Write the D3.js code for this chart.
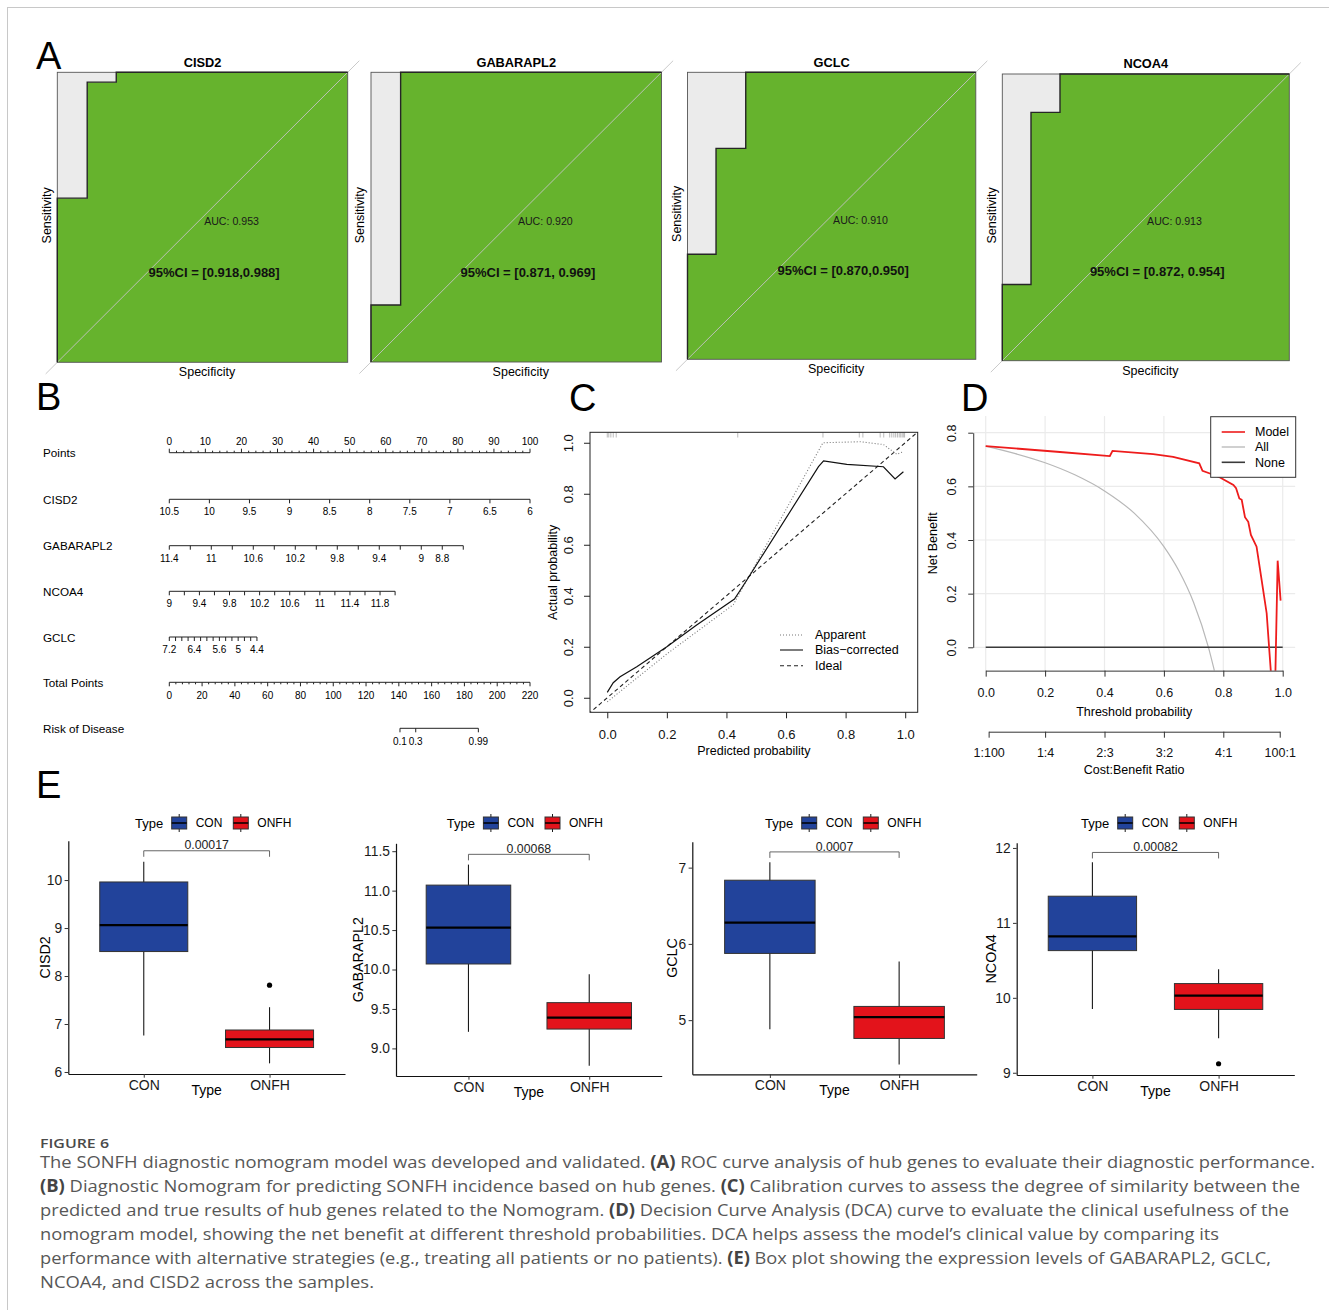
<!DOCTYPE html>
<html>
<head>
<meta charset="utf-8">
<title>Figure 6</title>
<script src="https://cdn.jsdelivr.net/npm/d3@7/dist/d3.min.js"></script>
<style>
  body { margin: 0; background: #fff; }
  svg { display: block; font-family: "Liberation Sans", Arial, Helvetica, sans-serif; }
</style>
</head>
<body>
<svg id="fig" width="1329" height="1313"></svg>
<script>
// ---------- data ----------
// A: ROC step curves (specificity, sensitivity)
const rocGenes = ["CISD2", "GABARAPL2", "GCLC", "NCOA4"];
const rocAuc = ["0.953", "0.920", "0.910", "0.913"];
const rocCi = ["[0.918,0.988]", "[0.871, 0.969]", "[0.870,0.950]", "[0.872, 0.954]"];
const rocSpec = [
  [1, 1, 0.897, 0.897, 0.797, 0.797, 0],
  [1, 1, 0.898, 0.898, 0],
  [1, 1, 0.901, 0.901, 0.798, 0.798, 0],
  [1, 1, 0.900, 0.900, 0.799, 0.799, 0]
];
const rocSens = [
  [0, 0.566, 0.566, 0.966, 0.966, 1, 1],
  [0, 0.197, 0.197, 1, 1],
  [0, 0.366, 0.366, 0.735, 0.735, 1, 1],
  [0, 0.266, 0.266, 0.866, 0.866, 1, 1]
];

// B: nomogram
const nomoVars = ["CISD2", "GABARAPL2", "NCOA4", "GCLC"];
const nomoStart = [10.5, 11.4, 9, 7.2];
const nomoEnd = [6, 8.6, 12, 4.4];
const nomoEndPts = [100, 81.5, 62.6, 24.3];
const nomoTicks = [
  [10.5, 10, 9.5, 9, 8.5, 8, 7.5, 7, 6.5, 6],
  [11.4, 11.2, 11, 10.8, 10.6, 10.4, 10.2, 10, 9.8, 9.6, 9.4, 9.2, 9, 8.8, 8.6],
  [9, 9.2, 9.4, 9.6, 9.8, 10, 10.2, 10.4, 10.6, 10.8, 11, 11.2, 11.4, 11.6, 11.8, 12],
  [7.2, 7, 6.8, 6.6, 6.4, 6.2, 6, 5.8, 5.6, 5.4, 5.2, 5, 4.8, 4.6, 4.4]
];
const nomoLabels = [
  [10.5, 10, 9.5, 9, 8.5, 8, 7.5, 7, 6.5, 6],
  [11.4, 11, 10.6, 10.2, 9.8, 9.4, 9, 8.8],
  [9, 9.4, 9.8, 10.2, 10.6, 11, 11.4, 11.8],
  [7.2, 6.4, 5.6, 5, 4.4]
];
const totalPtsMax = 220;
const riskLabels = ["0.1", "0.3", "0.99"];
const riskPts = [140.7, 150.3, 188.5];

// C: calibration
const calRug = [0.0, 0.005, 0.012, 0.02, 0.03, 0.438, 0.724, 0.846, 0.858, 0.916, 0.928,
  0.948, 0.955, 0.962, 0.968, 0.974, 0.98, 0.985, 0.99, 0.995, 0.998];
const appPred = [0, 0.2, 0.423, 0.724, 0.849, 0.927, 0.972, 0.994];
const appObs = [-0.016, 0.172, 0.365, 1.0, 1.004, 0.993, 0.955, 0.965];
const bcPred = [0, 0.02, 0.043, 0.099, 0.2, 0.3, 0.427, 0.468, 0.709, 0.726, 0.804, 0.927, 0.966, 0.994];
const bcObs = [0.021, 0.059, 0.082, 0.122, 0.2, 0.285, 0.387, 0.461, 0.906, 0.929, 0.915, 0.906, 0.858, 0.886];

// D: decision curve
const modelThr = [0, 0.25, 0.418, 0.427, 0.564, 0.631, 0.719, 0.73, 0.755, 0.789, 0.834, 0.843,
  0.854, 0.862, 0.873, 0.884, 0.893, 0.912, 0.929, 0.946, 0.962, 0.975, 0.983, 0.993];
const modelNb = [0.750, 0.728, 0.713, 0.732, 0.720, 0.710, 0.686, 0.658, 0.648, 0.633, 0.605, 0.593,
  0.555, 0.550, 0.485, 0.468, 0.419, 0.375, 0.251, 0.127, -0.12, -0.12, 0.323, 0.174];
const allThr = [0, 0.1, 0.2, 0.3, 0.4, 0.5, 0.6, 0.65, 0.7, 0.75, 0.77];
const allNb = [0.75, 0.722, 0.688, 0.643, 0.583, 0.5, 0.375, 0.286, 0.167, 0, -0.087];
const costRatios = ["1:100", "1:4", "2:3", "3:2", "4:1", "100:1"];
const costThr = [0.0099, 0.2, 0.4, 0.6, 0.8, 0.99];

// E: box plots, [lower whisker, Q1, median, Q3, upper whisker]
const boxGenes = ["CISD2", "GABARAPL2", "GCLC", "NCOA4"];
const groups = ["CON", "ONFH"];
const groupColors = ["#22439b", "#e3131b"];
const conStats = [[6.76, 8.51, 9.06, 9.96, 10.38], [9.21, 10.07, 10.53, 11.07, 11.33],
  [4.88, 5.875, 6.28, 6.835, 7.07], [9.85, 10.63, 10.82, 11.356, 11.81]];
const onfhStats = [[6.18, 6.51, 6.68, 6.875, 7.35], [8.78, 9.245, 9.39, 9.58, 9.94],
  [4.42, 4.76, 5.04, 5.18, 5.77], [9.46, 9.845, 10.03, 10.19, 10.38]];
const onfhOutliers = [[7.81], [], [], [9.12]];
const pValues = ["0.00017", "0.00068", "0.0007", "0.00082"];
const bracketAt = [10.61, 11.46, 7.206, 11.94];
const boxDomains = [[5.958, 10.82], [8.65, 11.6], [4.29, 7.34], [8.97, 12.07]];
const boxTicks = [[6, 7, 8, 9, 10], [9, 9.5, 10, 10.5, 11, 11.5], [5, 6, 7], [9, 10, 11, 12]];

// caption
const captionLines = [
  [["The SONFH diagnostic nomogram model was developed and validated. ", 0], ["(A)", 1], [" ROC curve analysis of hub genes to evaluate their diagnostic performance.", 0]],
  [["(B)", 1], [" Diagnostic Nomogram for predicting SONFH incidence based on hub genes. ", 0], ["(C)", 1], [" Calibration curves to assess the degree of similarity between the", 0]],
  [["predicted and true results of hub genes related to the Nomogram. ", 0], ["(D)", 1], [" Decision Curve Analysis (DCA) curve to evaluate the clinical usefulness of the", 0]],
  [["nomogram model, showing the net benefit at different threshold probabilities. DCA helps assess the model\u2019s clinical value by comparing its", 0]],
  [["performance with alternative strategies (e.g., treating all patients or no patients). ", 0], ["(E)", 1], [" Box plot showing the expression levels of GABARAPL2, GCLC,", 0]],
  [["NCOA4, and CISD2 across the samples.", 0]]
];
const captionWidths = [1275, 1260, 1249, 1179, 1231, 334];

// ---------- drawing ----------
const svg = d3.select("#fig");
const FONT = "'Liberation Sans', Arial, Helvetica, sans-serif";

function txt(g, x, y, s, o = {}) {
  const t = g.append("text").attr("x", x).attr("y", y).text(s)
    .attr("font-size", o.size || 12)
    .attr("text-anchor", o.anchor || "middle")
    .attr("fill", o.fill || "#000")
    .attr("dy", o.dy !== undefined ? o.dy : "0.35em");
  if (o.bold) t.attr("font-weight", "bold");
  if (o.rot) t.attr("transform", `rotate(${o.rot},${x},${y})`);
  return t;
}

// frame
svg.append("line").attr("x1", 7).attr("x2", 1329).attr("y1", 7.5).attr("y2", 7.5).attr("stroke", "#c8c8c8");
svg.append("line").attr("x1", 7.5).attr("x2", 7.5).attr("y1", 7.5).attr("y2", 1310).attr("stroke", "#c8c8c8");

// panel letters
[["A", 36, 69], ["B", 36, 410], ["C", 569, 411], ["D", 961, 411], ["E", 36, 798]].forEach(([l, x, y]) =>
  txt(svg, x, y, l, { size: 38, anchor: "start", dy: 0 }));

// ===== A: ROC =====
const rocBoxes = [[57.3, 72.3, 347.7, 362.3], [371, 72.3, 661.5, 362], [687.5, 72.3, 975.8, 359.3], [1002.3, 74, 1289.3, 360.7]];
const gA = svg.append("g");
rocGenes.forEach((gene, i) => {
  const [bx0, by0, bx1, by1] = rocBoxes[i];
  const x = d3.scaleLinear().domain([1, 0]).range([bx0, bx1]);
  const y = d3.scaleLinear().domain([0, 1]).range([by1, by0]);
  const pts = rocSpec[i].map((s, j) => [s, rocSens[i][j]]);
  const line = d3.line().x(d => x(d[0])).y(d => y(d[1]));
  gA.append("path").attr("d", line([...pts, [0, 0]]) + "Z").attr("fill", "#66b32d");
  gA.append("path").attr("d", line([...pts, [1, 1]]) + "Z").attr("fill", "#ebebeb");
  gA.append("line")
    .attr("x1", x(1.04)).attr("y1", y(-0.04)).attr("x2", x(-0.04)).attr("y2", y(1.04))
    .attr("stroke", "#c4c4c4").attr("stroke-width", 0.9);
  gA.append("rect").attr("x", bx0).attr("y", by0).attr("width", bx1 - bx0).attr("height", by1 - by0)
    .attr("fill", "none").attr("stroke", "#555").attr("stroke-width", 0.9);
  gA.append("path").attr("d", line(pts)).attr("fill", "none").attr("stroke", "#262626").attr("stroke-width", 1.4);

  const cx = (bx0 + bx1) / 2;
  txt(gA, cx, by0 - 5.7, gene, { size: 12.8, bold: true, dy: 0 });
  txt(gA, bx0 - 11, (by0 + by1) / 2 - 2, "Sensitivity", { size: 12.5, rot: -90 });
  txt(gA, cx + 4.5, by1 + 9.5, "Specificity", { size: 12.5 });
  txt(gA, x(0.4), y(0.485), "AUC: " + rocAuc[i], { size: 10.6, fill: "#1a1a1a" });
  txt(gA, x(0.46), y(0.31), "95%CI = " + rocCi[i], { size: 13, bold: true, fill: "#111" });
});

// ===== B: nomogram =====
const gB = svg.append("g").attr("stroke-width", 1);
const nomX = d3.scaleLinear().domain([0, 100]).range([169.3, 530]);
const totX = d3.scaleLinear().domain([0, totalPtsMax]).range([169.3, 530]);
const rowY = [452.7, 499.3, 545.7, 591.3, 637, 682.3, 728.3];
const rowNames = ["Points", ...nomoVars, "Total Points", "Risk of Disease"];
rowNames.forEach((n, i) => txt(gB, 43, rowY[i] + 0.5, n, { size: 11.7, anchor: "start" }));

function hline(g, x1, x2, y) {
  g.append("line").attr("x1", x1).attr("x2", x2).attr("y1", y).attr("y2", y).attr("stroke", "#222");
}
function vtick(g, x, y, len) {
  g.append("line").attr("x1", x).attr("x2", x).attr("y1", y).attr("y2", y + len).attr("stroke", "#222");
}
// Points
hline(gB, nomX(0), nomX(100), rowY[0]);
d3.range(0, 101, 2).forEach(p => vtick(gB, nomX(p), rowY[0], p % 10 === 0 ? -4 : -2));
d3.range(0, 101, 10).forEach(p => txt(gB, nomX(p), rowY[0] - 11, p, { size: 10 }));
// predictors
nomoVars.forEach((v, i) => {
  const pts = d3.scaleLinear().domain([nomoStart[i], nomoEnd[i]]).range([0, nomoEndPts[i]]);
  const y = rowY[i + 1];
  hline(gB, nomX(pts(nomoStart[i])), nomX(pts(nomoEnd[i])), y);
  nomoTicks[i].forEach(t => vtick(gB, nomX(pts(t)), y, 4));
  nomoLabels[i].forEach(t => txt(gB, nomX(pts(t)), y + 12.3, t, { size: 10 }));
});
// Total points
hline(gB, totX(0), totX(totalPtsMax), rowY[5]);
d3.range(0, totalPtsMax + 1, 4).forEach(p => vtick(gB, totX(p), rowY[5], p % 20 === 0 ? 4 : 2));
d3.range(0, totalPtsMax + 1, 20).forEach(p => txt(gB, totX(p), rowY[5] + 12.7, p, { size: 10 }));
// Risk
hline(gB, totX(riskPts[0]), totX(riskPts[2]), rowY[6]);
riskPts.forEach((p, i) => {
  vtick(gB, totX(p), rowY[6], 4);
  txt(gB, totX(p), rowY[6] + 12.7, riskLabels[i], { size: 10 });
});

// ===== C: calibration =====
const gC = svg.append("g");
const xC = d3.scaleLinear().domain([-0.058, 1.042]).range([590, 917.7]);
const yC = d3.scaleLinear().domain([-0.057, 1.041]).range([712.3, 432.3]);
svg.append("clipPath").attr("id", "clipC").append("rect")
  .attr("x", 590).attr("y", 432.3).attr("width", 327.7).attr("height", 280);
const calTicks = [0, 0.2, 0.4, 0.6, 0.8, 1];
const gCp = gC.append("g").attr("clip-path", "url(#clipC)");
gCp.append("line").attr("x1", xC(-0.1)).attr("y1", yC(-0.1)).attr("x2", xC(1.1)).attr("y2", yC(1.1))
  .attr("stroke", "#222").attr("stroke-width", 1.1).attr("stroke-dasharray", "4,3");
gCp.append("path").attr("d", d3.line().x((d, j) => xC(appPred[j])).y(d => yC(d))(appObs))
  .attr("fill", "none").attr("stroke", "#777").attr("stroke-width", 1.1).attr("stroke-dasharray", "1,2");
gCp.append("path").attr("d", d3.line().x((d, j) => xC(bcPred[j])).y(d => yC(d))(bcObs))
  .attr("fill", "none").attr("stroke", "#111").attr("stroke-width", 1.2);
calRug.forEach(r => gCp.append("line").attr("x1", xC(r)).attr("x2", xC(r))
  .attr("y1", 432.3).attr("y2", 437.5).attr("stroke", "#aaa").attr("stroke-width", 0.8));
gC.append("rect").attr("x", 590).attr("y", 432.3).attr("width", 327.7).attr("height", 280)
  .attr("fill", "none").attr("stroke", "#222").attr("stroke-width", 1);
gC.append("g").attr("transform", "translate(0,712.3)")
  .call(d3.axisBottom(xC).tickValues(calTicks).tickSize(6).tickPadding(11).tickFormat(d3.format(".1f")))
  .call(g => g.select(".domain").remove())
  .attr("font-size", 13).attr("font-family", FONT);
gC.append("g").attr("transform", "translate(590,0)")
  .call(d3.axisLeft(yC).tickValues(calTicks).tickSize(6).tickFormat(d3.format(".1f")))
  .call(g => g.select(".domain").remove())
  .attr("font-size", 13).attr("font-family", FONT)
  .call(g => g.selectAll("text").attr("x", null).attr("dy", "0.35em").attr("text-anchor", "middle")
    .attr("transform", "translate(-22,0) rotate(-90)"));
gC.selectAll(".tick line").attr("stroke", "#222");
gC.selectAll(".tick text").attr("fill", "#111");
txt(gC, 753.9, 750.7, "Predicted probability", { size: 12.5 });
txt(gC, 553, 572.3, "Actual probability", { size: 12.5, rot: -90 });
const calLegend = [["Apparent", "#777", "1,2", 635], ["Bias\u2212corrected", "#111", null, 650], ["Ideal", "#222", "4,3", 665.7]];
calLegend.forEach(([lab, col, dash, y]) => {
  const l = gC.append("line").attr("x1", 780).attr("x2", 803).attr("y1", y).attr("y2", y)
    .attr("stroke", col).attr("stroke-width", 1.1);
  if (dash) l.attr("stroke-dasharray", dash);
  txt(gC, 815, y, lab, { size: 12.5, anchor: "start" });
});

// ===== D: decision curve =====
const gD = svg.append("g");
const xD = d3.scaleLinear().domain([0, 1]).range([985.7, 1282.7]);
const yD = d3.scaleLinear().domain([0, 0.8]).range([647.3, 432.7]);
const regX0 = xD(-0.042), regX1 = xD(1.042), regY0 = yD(0.862), regY1 = yD(-0.087);
const dTicksX = [0, 0.2, 0.4, 0.6, 0.8, 1];
const dTicksY = [0, 0.2, 0.4, 0.6, 0.8];
dTicksX.forEach(t => gD.append("line").attr("x1", xD(t)).attr("x2", xD(t)).attr("y1", regY0).attr("y2", regY1)
  .attr("stroke", "#ebebeb").attr("stroke-width", 1.2));
dTicksY.forEach(t => gD.append("line").attr("x1", regX0).attr("x2", regX1).attr("y1", yD(t)).attr("y2", yD(t))
  .attr("stroke", "#ebebeb").attr("stroke-width", 1.2));
svg.append("clipPath").attr("id", "clipD").append("rect")
  .attr("x", regX0).attr("y", regY0).attr("width", regX1 - regX0).attr("height", regY1 - regY0);
const gDp = gD.append("g").attr("clip-path", "url(#clipD)");
gDp.append("path").attr("d", d3.line().x((d, j) => xD(allThr[j])).y(d => yD(d)).curve(d3.curveMonotoneX)(allNb))
  .attr("fill", "none").attr("stroke", "#b8b8b8").attr("stroke-width", 1.2);
gDp.append("line").attr("x1", xD(0)).attr("x2", xD(1)).attr("y1", yD(0)).attr("y2", yD(0))
  .attr("stroke", "#3a3a3a").attr("stroke-width", 1.4);
gDp.append("path").attr("d", d3.line().x((d, j) => xD(modelThr[j])).y(d => yD(d))(modelNb))
  .attr("fill", "none").attr("stroke", "#ee1c1c").attr("stroke-width", 1.8);
gD.append("g").attr("transform", `translate(0,${regY1})`)
  .call(d3.axisBottom(xD).tickValues(dTicksX).tickSize(6).tickSizeOuter(0).tickPadding(11).tickFormat(d3.format(".1f")))
  .attr("font-size", 12.5).attr("font-family", FONT);
gD.append("g").attr("transform", `translate(${regX0},0)`)
  .call(d3.axisLeft(yD).tickValues(dTicksY).tickSize(5).tickSizeOuter(0).tickFormat(d3.format(".1f")))
  .attr("font-size", 12.5).attr("font-family", FONT)
  .call(g => g.selectAll("text").attr("x", null).attr("dy", "0.35em").attr("text-anchor", "middle")
    .attr("transform", "translate(-21.6,0) rotate(-90)"));
const xCost = d3.scaleOrdinal().domain(costRatios).range(costThr.map(xD));
gD.append("g").attr("transform", "translate(0,731.7)")
  .call(d3.axisBottom(xCost).tickSize(6).tickSizeOuter(0).tickPadding(10))
  .attr("font-size", 12.5).attr("font-family", FONT);
gD.selectAll(".domain, .tick line").attr("stroke", "#333");
gD.selectAll(".tick text").attr("fill", "#111");
txt(gD, xD(0.5), 711.7, "Threshold probability", { size: 12.5 });
txt(gD, xD(0.5), 770, "Cost:Benefit Ratio", { size: 12.5 });
txt(gD, 932.7, 543.3, "Net Benefit", { size: 12.5, rot: -90 });
gD.append("rect").attr("x", 1210.7).attr("y", 416.7).attr("width", 85).attr("height", 60.6)
  .attr("fill", "#fff").attr("stroke", "#333").attr("stroke-width", 1);
[["Model", "#ee1c1c", 432], ["All", "#c4c4c4", 447], ["None", "#3a3a3a", 462.3]].forEach(([lab, col, y]) => {
  gD.append("line").attr("x1", 1221.7).attr("x2", 1245).attr("y1", y).attr("y2", y)
    .attr("stroke", col).attr("stroke-width", 1.6);
  txt(gD, 1255, y, lab, { size: 12.5, anchor: "start" });
});

// ===== E: box plots =====
const boxFrames = [[68.3, 345, 840.7, 1074], [396, 661.7, 843.3, 1076], [692.3, 976.7, 841.7, 1074.3], [1016.7, 1294.3, 842.7, 1075]];
const yTitleX = [45, 358.3, 671.7, 991];
const legendX = [135, 446.7, 765, 1081];
const legendY = 823;
boxGenes.forEach((gene, i) => {
  const [ax0, ax1, ayT, ayB] = boxFrames[i];
  const g = svg.append("g");
  const x = d3.scalePoint().domain(groups).range([ax0, ax1]).padding(0.6);
  const y = d3.scaleLinear().domain(boxDomains[i]).range([ayB, ayT]);
  const bw = x.step() * 0.7;
  const stats = [conStats[i], onfhStats[i]];
  groups.forEach((grp, k) => {
    const s = stats[k], cx = x(grp);
    g.append("line").attr("x1", cx).attr("x2", cx).attr("y1", y(s[0])).attr("y2", y(s[4]))
      .attr("stroke", "#1a1a1a").attr("stroke-width", 1.1);
    g.append("rect").attr("x", cx - bw / 2).attr("y", y(s[3])).attr("width", bw).attr("height", y(s[1]) - y(s[3]))
      .attr("fill", groupColors[k]).attr("stroke", "#333").attr("stroke-width", 1);
    g.append("line").attr("x1", cx - bw / 2).attr("x2", cx + bw / 2).attr("y1", y(s[2])).attr("y2", y(s[2]))
      .attr("stroke", "#000").attr("stroke-width", 2.3);
  });
  onfhOutliers[i].forEach(o => g.append("circle").attr("cx", x("ONFH")).attr("cy", y(o)).attr("r", 2.6).attr("fill", "#000"));
  // significance bracket
  const by = y(bracketAt[i]);
  g.append("path").attr("d", `M${x("CON")},${by + 6}V${by}H${x("ONFH")}V${by + 6}`)
    .attr("fill", "none").attr("stroke", "#555").attr("stroke-width", 0.9);
  txt(g, (x("CON") + x("ONFH")) / 2, by - 5.7, pValues[i], { size: 12.3, fill: "#222" });
  // axes
  const fmt = i === 1 ? d3.format(".1f") : d3.format("d");
  g.append("g").attr("transform", `translate(${ax0},0)`)
    .call(d3.axisLeft(y).tickValues(boxTicks[i]).tickSize(3.7).tickSizeOuter(0).tickPadding(2.4).tickFormat(fmt))
    .attr("font-size", 13.8).attr("font-family", FONT);
  g.append("g").attr("transform", `translate(0,${ayB})`)
    .call(d3.axisBottom(x).tickSize(3.7).tickSizeOuter(0).tickPadding(2.5))
    .attr("font-size", 14).attr("font-family", FONT);
  g.selectAll(".domain").attr("stroke", "#111").attr("stroke-width", 1.2);
  g.selectAll(".tick line").attr("stroke", "#333");
  g.selectAll(".tick text").attr("fill", "#1a1a1a");
  txt(g, (ax0 + ax1) / 2, ayB + 21, "Type", { size: 14, dy: 0 });
  txt(g, yTitleX[i], (ayT + ayB) / 2, gene, { size: 14.3, rot: -90 });
  // legend
  const lx = legendX[i];
  txt(g, lx, legendY, "Type", { size: 13, anchor: "start" });
  groups.forEach((grp, k) => {
    const kx = lx + 36.7 + k * 61.6;
    g.append("line").attr("x1", kx + 7.5).attr("x2", kx + 7.5).attr("y1", legendY - 9).attr("y2", legendY + 9)
      .attr("stroke", "#1a1a1a").attr("stroke-width", 1);
    g.append("rect").attr("x", kx).attr("y", legendY - 6).attr("width", 15).attr("height", 12)
      .attr("fill", groupColors[k]).attr("stroke", "#333").attr("stroke-width", 1);
    g.append("line").attr("x1", kx).attr("x2", kx + 15).attr("y1", legendY).attr("y2", legendY)
      .attr("stroke", "#000").attr("stroke-width", 1.5);
    txt(g, kx + 24, legendY, grp, { size: 12, anchor: "start" });
  });
});

// ===== caption =====
const gCap = svg.append("g").attr("font-family", "'Open Sans', 'Noto Sans', sans-serif").attr("fill", "#575757");
gCap.append("text").attr("x", 40).attr("y", 1143.3).attr("dy", "0.35em").attr("font-size", 13)
  .attr("font-weight", 600).attr("fill", "#4a4a4a")
  .attr("textLength", 69).attr("lengthAdjust", "spacingAndGlyphs").text("FIGURE 6");
captionLines.forEach((segs, i) => {
  const t = gCap.append("text").attr("x", 40).attr("y", 1161.7 + i * 24).attr("dy", "0.35em")
    .attr("font-size", 17).attr("textLength", captionWidths[i]).attr("lengthAdjust", "spacingAndGlyphs");
  segs.forEach(([s, b]) => {
    const ts = t.append("tspan").text(s);
    if (b) ts.attr("font-weight", "bold").attr("fill", "#444");
  });
});
</script>
</body>
</html>
